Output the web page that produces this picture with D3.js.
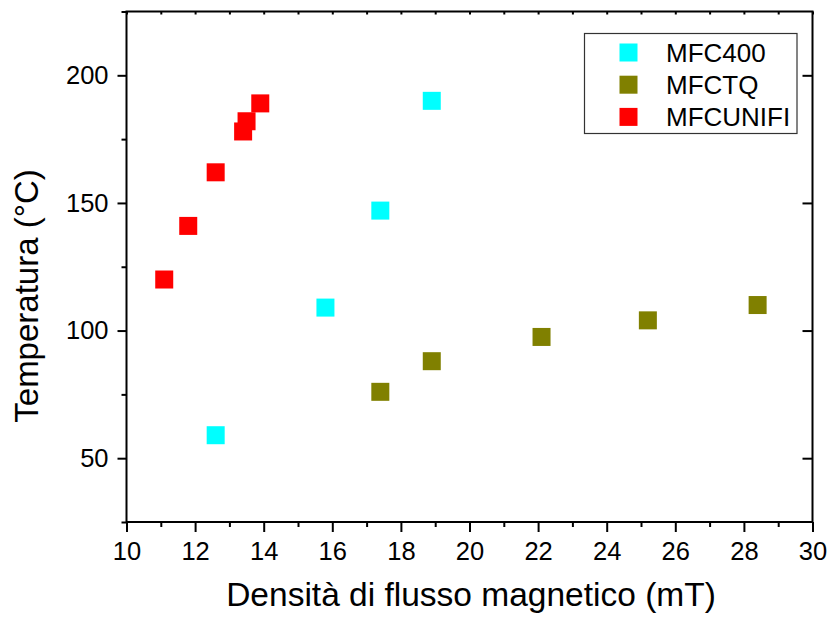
<!DOCTYPE html>
<html>
<head>
<meta charset="utf-8">
<script src="https://cdn.jsdelivr.net/npm/d3@7"></script>
<style>
    body { margin: 0; background: #fff; }
    svg { display: block; font-family: Arial, "Liberation Sans", sans-serif; }
    .domain { display: none; }
</style>
</head>
<body>
<svg id="chart"></svg>
<script>
const width = 829;
const height = 617;

// data
const seriesNames = ["MFC400", "MFCTQ", "MFCUNIFI"];
const seriesColors = ["#00ffff", "#808000", "#ff0000"];

const mfc400X = [12.6, 15.8, 17.4, 18.9];
const mfc400Y = [59, 109, 147, 190];

const mfctqX = [17.4, 18.9, 22.1, 25.2, 28.4];
const mfctqY = [76, 88, 97.5, 104, 110];

const unifiX = [11.1, 11.8, 12.6, 13.4, 13.5, 13.9];
const unifiY = [120, 141, 162, 178, 182, 189];

const xMajor = [10, 12, 14, 16, 18, 20, 22, 24, 26, 28, 30];
const xMinor = [11, 13, 15, 17, 19, 21, 23, 25, 27, 29];
const yMajor = [50, 100, 150, 200];
const yMinor = [25, 75, 125, 175, 225];

const series = [
    { name: seriesNames[0], color: seriesColors[0], xs: mfc400X, ys: mfc400Y },
    { name: seriesNames[1], color: seriesColors[1], xs: mfctqX, ys: mfctqY },
    { name: seriesNames[2], color: seriesColors[2], xs: unifiX, ys: unifiY }
];

const plotLeft = 126.5, plotTop = 11.5, plotRight = 812.5, plotBottom = 522;

const svg = d3.select("#chart")
    .attr("width", width)
    .attr("height", height);

const x = d3.scaleLinear().domain([10, 30]).range([plotLeft, plotRight]);
const y = d3.scaleLinear().domain([25, 225]).range([plotBottom, plotTop]);

function styleAxis(g) {
    g.selectAll("line").attr("stroke", "#000").attr("stroke-width", 2);
    g.selectAll("text").attr("fill", "#000").style("font-size", "25.5px")
        .style("font-family", "Arial, 'Liberation Sans', sans-serif");
}

// bottom axis
svg.append("g").attr("transform", `translate(0,${plotBottom})`)
    .call(d3.axisBottom(x).tickValues(xMinor).tickSize(5).tickFormat(""))
    .call(styleAxis);
svg.append("g").attr("transform", `translate(0,${plotBottom})`)
    .call(d3.axisBottom(x).tickValues(xMajor).tickSize(10).tickPadding(9.5).tickFormat(d3.format("d")))
    .call(styleAxis);

// top axis, small inward ticks
svg.append("g").attr("transform", `translate(0,${plotTop})`)
    .call(d3.axisTop(x).tickValues(xMajor.concat(xMinor)).tickSize(-3).tickFormat(""))
    .call(styleAxis);

// left axis
svg.append("g").attr("transform", `translate(${plotLeft},0)`)
    .call(d3.axisLeft(y).tickValues(yMinor).tickSize(5).tickFormat(""))
    .call(styleAxis);
svg.append("g").attr("transform", `translate(${plotLeft},0)`)
    .call(d3.axisLeft(y).tickValues(yMajor).tickSize(9).tickPadding(9).tickFormat(d3.format("d")))
    .call(styleAxis);

// right axis, inward ticks
svg.append("g").attr("transform", `translate(${plotRight},0)`)
    .call(d3.axisRight(y).tickValues(yMajor).tickSize(-10).tickFormat(""))
    .call(styleAxis);

// frame
svg.append("rect")
    .attr("x", plotLeft).attr("y", plotTop)
    .attr("width", plotRight - plotLeft).attr("height", plotBottom - plotTop)
    .attr("fill", "none").attr("stroke", "#000").attr("stroke-width", 2);

// points
const size = 18;
series.forEach(s => {
    svg.append("g").selectAll("rect")
        .data(s.xs.map((v, i) => [v, s.ys[i]]))
        .join("rect")
        .attr("x", d => x(d[0]) - size / 2)
        .attr("y", d => y(d[1]) - size / 2)
        .attr("width", size)
        .attr("height", size)
        .attr("fill", s.color);
});

// axis titles
svg.append("text")
    .attr("x", 471).attr("y", 606)
    .attr("text-anchor", "middle")
    .style("font-size", "33.5px")
    .text("Densità di flusso magnetico (mT)");

svg.append("text")
    .attr("transform", "translate(38,296) rotate(-90)")
    .attr("text-anchor", "middle")
    .style("font-size", "33px")
    .text("Temperatura (°C)");

// legend
const legend = svg.append("g");
legend.append("rect")
    .attr("x", 584.5).attr("y", 33.5)
    .attr("width", 212.5).attr("height", 100)
    .attr("fill", "#fff").attr("stroke", "#333").attr("stroke-width", 1.2);

const rows = legend.selectAll(".row")
    .data(series)
    .join("g")
    .attr("class", "row")
    .attr("transform", (d, i) => `translate(0,${52.5 + i * 32.2})`);

rows.append("rect")
    .attr("x", 628.5 - size / 2).attr("y", -size / 2)
    .attr("width", size).attr("height", size)
    .attr("fill", d => d.color);

rows.append("text")
    .attr("x", 666).attr("y", 9.5)
    .style("font-size", "26px")
    .text(d => d.name);
</script>
</body>
</html>
